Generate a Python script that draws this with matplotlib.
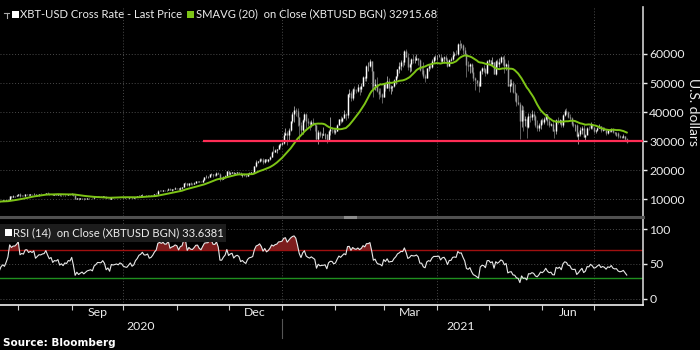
import numpy as np
import pandas as pd
import matplotlib
matplotlib.use("Agg")
import matplotlib.pyplot as plt
import matplotlib.dates as mdates
from matplotlib.lines import Line2D
from matplotlib.patches import Rectangle

# ---------------- data (daily XBT-USD, read/estimated from the chart) ----------------
warmup_close = [9230, 9090, 9060, 9130, 9070, 9340, 9250, 9430, 9240, 9290,
                9240, 9300, 9240, 9250, 9190, 9130, 9150, 9170, 9210, 9160]  # 2020-07-01..07-20

start_date = "2020-07-21"

close = [
    # Jul 2020
    9390, 9530, 9600, 9540, 9700, 9930, 11030, 10910, 11100, 11110, 11350,
    # Aug
    11800, 11070, 11230, 11190, 11740, 11770, 11600, 11750, 11680, 11880,
    11400, 11580, 11780, 11770, 11870, 11910, 12250, 11990, 11750, 11870,
    11520, 11680, 11650, 11770, 11370, 11470, 11330, 11530, 11480, 11710, 11680,
    # Sep
    11970, 11410, 10250, 10510, 10170, 10280, 10370, 10130, 10240, 10360,
    10400, 10440, 10330, 10680, 10790, 10960, 10950, 10940, 11090, 10920,
    10420, 10540, 10240, 10740, 10690, 10730, 10770, 10710, 10840, 10780,
    # Oct
    10620, 10570, 10550, 10670, 10790, 10600, 10670, 10920, 11060, 11300,
    11380, 11550, 11430, 11430, 11500, 11320, 11370, 11510, 11750, 11920,
    12820, 12970, 12930, 13110, 13030, 13070, 13650, 13280, 13460, 13560, 13800,
    # Nov
    13760, 13550, 14030, 14150, 15590, 15580, 14830, 15480, 15330, 15300,
    15700, 16280, 16330, 16070, 15960, 16720, 17660, 17800, 17820, 18620,
    18680, 18370, 18360, 19170, 18720, 17150, 17140, 17720, 18180, 19700,
    # Dec
    18790, 19210, 19420, 18650, 19150, 19360, 19170, 18320, 18550, 18250,
    18040, 18800, 19170, 19270, 19440, 21310, 22800, 23140, 23870, 23480,
    22750, 23820, 23240, 23730, 24710, 26440, 26250, 27040, 27360, 28840, 29000,
    # Jan 2021
    29370, 32130, 32780, 31970, 33990, 36820, 39370, 40800, 40250, 38350,
    35570, 33920, 37320, 39190, 36830, 36180, 35790, 36630, 36070, 35550,
    30830, 33010, 32100, 32290, 32370, 32570, 30440, 33470, 34320, 34270, 33110,
    # Feb
    33540, 35510, 37470, 36930, 38140, 39270, 38900, 46200, 46480, 44840,
    47970, 47410, 47190, 48580, 47940, 49140, 52150, 51680, 55890, 55920,
    57490, 54210, 48830, 49710, 47200, 46340, 46190, 45140,
    # Mar
    49630, 48380, 50540, 48370, 48760, 48880, 50970, 52380, 54880, 55850,
    57330, 57220, 61180, 59000, 55640, 56470, 58330, 58050, 58100, 58750,
    57900, 54530, 54520, 52300, 51700, 55140, 55970, 55640, 57750, 58920, 58920,
    # Apr
    58980, 59120, 57600, 58760, 59060, 58020, 56000, 58090, 58120, 59770,
    60000, 59860, 63540, 62970, 63110, 61530, 60060, 56220, 55720, 56470,
    53910, 51760, 51090, 50050, 49000, 54030, 55030, 54830, 53560, 57750,
    # May
    57830, 56630, 57210, 53240, 57470, 56430, 57360, 58800, 58230, 55860,
    56670, 49150, 49720, 49880, 46760, 46430, 43540, 42910, 36960, 40780,
    37300, 37530, 34770, 38710, 38490, 39290, 38530, 35680, 34620, 35680, 37340,
    # Jun
    36690, 37570, 39190, 36830, 35520, 35800, 33550, 33400, 37390, 36690,
    37340, 35550, 39100, 40520, 40140, 38350, 38090, 35820, 35480, 35600,
    31680, 32510, 33680, 34660, 31590, 32280, 34700, 34490, 35910, 35040,
    # Jul
    33570, 33900, 34680, 35290, 33800, 34230, 33860, 32880, 33810, 33520,
    34260, 33090, 32730, 32820, 31780, 31420, 31530, 31800, 30840, 29800,
]

high = [
    9420, 9540, 9640, 9620, 9730, 10000, 11250, 11200, 11330, 11170, 11450,
    11860, 12030, 11450, 11400, 11790, 11900, 11900, 11800, 11800, 12050,
    11950, 11650, 11800, 12000, 11960, 11950, 12300, 12410, 12000, 11900,
    11880, 11690, 11710, 11830, 11770, 11530, 11560, 11540, 11560, 11720, 11760,
    12070, 11960, 11450, 10610, 10570, 10310, 10400, 10420, 10350, 10500,
    10420, 10460, 10450, 10750, 10920, 11050, 11030, 11020, 11150, 11060,
    10990, 10570, 10560, 10760, 10760, 10790, 10800, 10940, 10860, 10860,
    10900, 10660, 10600, 10690, 10800, 10800, 10690, 10940, 11100, 11450,
    11430, 11700, 11550, 11540, 11560, 11540, 11400, 11520, 11800, 12000,
    13180, 13160, 13030, 13150, 13330, 13230, 13760, 13830, 13600, 13670, 14070,
    13900, 13810, 14070, 14220, 15750, 15950, 15740, 15650, 15800, 15460,
    15950, 16340, 16450, 16350, 16130, 16860, 17800, 18390, 18110, 18760,
    18900, 18700, 18750, 19390, 19480, 18900, 17370, 17890, 18280, 19750,
    19850, 19290, 19550, 19500, 19180, 19400, 19410, 19280, 18620, 18560,
    18270, 18910, 19380, 19300, 19550, 21560, 23640, 23260, 24170, 24250,
    24060, 23840, 24020, 23790, 24790, 26720, 28330, 27430, 27370, 28930, 29250,
    29600, 33160, 34610, 33440, 34440, 36880, 40180, 41950, 41380, 41340,
    38300, 36570, 37600, 39700, 39580, 37890, 36800, 37300, 37820, 36360,
    35550, 33740, 33420, 32900, 34800, 32920, 32560, 33700, 38400, 34880, 34300,
    34630, 35900, 37660, 38620, 38300, 40900, 39700, 46200, 48000, 47250,
    48460, 48950, 48010, 49590, 49090, 50170, 52540, 52480, 56180, 57400,
    58330, 57460, 54180, 51370, 52100, 48320, 48270, 46530,
    49750, 50130, 52540, 51700, 49420, 49130, 51450, 52300, 54900, 57370,
    58010, 57930, 61450, 61600, 60500, 56880, 58780, 60050, 59430, 59850,
    58760, 58400, 55900, 57200, 53230, 55200, 56570, 56460, 58300, 59370, 59800,
    59500, 60050, 59840, 58900, 59350, 59490, 58650, 58200, 58910, 61180,
    60690, 61280, 63700, 64860, 63820, 63560, 62500, 60400, 57520, 57060,
    56760, 55450, 52130, 51170, 50590, 54350, 55460, 56230, 55190, 57920,
    58450, 57940, 58960, 57150, 57940, 58360, 58650, 59460, 59210, 59500,
    56860, 57940, 51330, 51440, 50640, 49720, 46550, 45800, 43550, 42460,
    42170, 38790, 38270, 39840, 39790, 40780, 40380, 38860, 37230, 36400, 37470,
    37860, 38200, 39400, 39240, 37890, 36400, 36790, 34020, 37530, 38400,
    37680, 37440, 39380, 41000, 41300, 40530, 39510, 38200, 36430, 36060,
    35740, 33300, 34750, 35230, 35460, 32640, 34720, 35220, 36540, 36000,
    35040, 33930, 34910, 35940, 35290, 35030, 35040, 33920, 34050, 34250,
    34560, 34650, 33300, 33100, 33150, 32200, 31950, 32400, 31890, 31030,
]

low = [
    9150, 9300, 9480, 9460, 9520, 9650, 9900, 10600, 10880, 10850, 10990,
    11230, 10650, 11000, 11060, 11120, 11600, 11280, 11500, 11550, 11530,
    11150, 11240, 11280, 11690, 11700, 11700, 11800, 11850, 11560, 11670,
    11500, 11400, 11530, 11600, 11170, 11300, 11160, 11300, 11420, 11460, 11600,
    11630, 11220, 10160, 10040, 9900, 10000, 9970, 9900, 10100, 10200,
    10210, 10300, 10250, 10280, 10640, 10690, 10800, 10820, 10900, 10800,
    10340, 10370, 10150, 10200, 10560, 10660, 10630, 10680, 10660, 10730,
    10550, 10420, 10520, 10540, 10630, 10560, 10590, 10540, 10830, 11060,
    11290, 11240, 11330, 11290, 11290, 11230, 11300, 11340, 11420, 11690,
    11900, 12730, 12730, 12890, 12920, 12800, 13060, 13170, 12980, 13060, 13480,
    13600, 13240, 13300, 13550, 14100, 15200, 14420, 14720, 14860, 15080,
    15280, 15450, 15990, 15800, 15790, 15870, 16560, 17220, 17380, 17780,
    18430, 17670, 18050, 18150, 18620, 16350, 16500, 16890, 17600, 18180,
    18350, 18610, 18930, 18610, 18620, 18970, 18940, 18240, 17650, 17980,
    17600, 18020, 18740, 19010, 19060, 19300, 21260, 22360, 22820, 23100,
    22200, 22400, 23060, 22780, 23490, 24560, 25920, 26140, 25990, 27350, 27990,
    28800, 29090, 32050, 28720, 30230, 33510, 36380, 36700, 38760, 35150,
    30550, 32580, 32560, 36600, 34450, 35340, 33910, 34860, 35940, 33420,
    30090, 28950, 31600, 31150, 32110, 30900, 29370, 30120, 31990, 32880, 32300,
    32330, 33450, 35410, 36200, 36650, 38140, 37450, 38080, 45180, 43800,
    44180, 46350, 46450, 47080, 45990, 47030, 48980, 50820, 50870, 54090,
    55600, 48040, 45290, 47640, 46970, 44480, 45370, 43220,
    45120, 47270, 48280, 47150, 46400, 47150, 48800, 49520, 51870, 53290,
    54360, 55370, 56090, 58990, 54600, 53700, 54200, 57040, 56960, 57970,
    56190, 54100, 53060, 51850, 50460, 51700, 54200, 54750, 55150, 57050, 57910,
    57940, 58800, 57300, 57010, 56880, 57600, 55590, 55900, 57650, 57870,
    59380, 59570, 59790, 61300, 62020, 60010, 59620, 52130, 54220, 53450,
    53600, 50580, 47710, 48910, 47040, 48850, 53220, 53880, 52370, 53120,
    57050, 56070, 56500, 53120, 52900, 55380, 55460, 56970, 56370, 53470,
    54460, 49150, 46980, 48870, 46660, 43960, 42250, 42370, 30680, 35050,
    33490, 35390, 31110, 34550, 36580, 37390, 37250, 34780, 33630, 33520, 34290,
    35750, 35980, 37200, 35660, 34800, 35280, 33480, 31110, 32400, 35840,
    35940, 34740, 34760, 38810, 39510, 38120, 37440, 35260, 34830, 33430,
    31380, 28890, 31770, 32390, 31290, 30230, 32300, 33900, 34270, 34090,
    32760, 32730, 33400, 34430, 33210, 33510, 33860, 32210, 32330, 33090,
    33330, 32730, 32280, 31650, 31160, 31120, 31200, 31120, 30500, 29360,
]

support_level = 30000
support_start = "2020-11-16"
sma_window = 20
rsi_window = 14
sma_last_label = "32915.68"
rsi_last_label = "33.6381"
price_ticks = [10000, 20000, 30000, 40000, 50000, 60000]
rsi_ticks = [0, 50, 100]
month_labels = {"2020-09-16": "Sep", "2020-12-16": "Dec", "2021-03-16": "Mar", "2021-06-16": "Jun"}
grid_dates = ["2020-10-01", "2021-01-01", "2021-04-01", "2021-07-01"]

# ---------------- derived series ----------------
n = len(close)
dates = pd.date_range(start_date, periods=n, freq="D")
xd = mdates.date2num(dates.to_pydatetime())
full = pd.Series(warmup_close + close, dtype=float)
opens = full.shift(1).iloc[len(warmup_close):].to_numpy()
c = np.array(close, float)
hi = np.array(high, float)
lo = np.array(low, float)
sma = full.rolling(sma_window).mean().iloc[len(warmup_close):].to_numpy()
delta = full.diff()
gain = delta.clip(lower=0).ewm(alpha=1 / rsi_window, adjust=False).mean()
loss = (-delta.clip(upper=0)).ewm(alpha=1 / rsi_window, adjust=False).mean()
rsi = (100 - 100 / (1 + gain / loss)).iloc[len(warmup_close):].to_numpy()

# ---------------- figure ----------------
W, H = 700, 350
BG = "black"
TXT = "#ececec"
GRID = "#4a4a4a"
FONT = ["Lato", "DejaVu Sans"]
plt.rcParams["font.family"] = FONT
LEG_FS = 8.1
TICK_FS = 8.8

fig = plt.figure(figsize=(7, 3.5), dpi=100, facecolor=BG)

def fx(px):
    return px / W

def fy(py):
    return 1 - py / H

right_px = 643
ax = fig.add_axes([0, fy(216), fx(right_px), (216 - 7) / H], facecolor=BG)
ax2 = fig.add_axes([0, fy(305), fx(right_px), (305 - 218) / H], facecolor=BG, sharex=ax)

jan1 = mdates.date2num(pd.Timestamp("2021-01-01"))
ppd = (594 - 282) / 181.0
xmin = jan1 - 282 / ppd
xmax = jan1 + (right_px - 282) / ppd
ax.set_xlim(xmin, xmax)

# price y-limits from pixel calibration
ppk = (199.3 - 54) / 50.0  # px per 1000
ax.set_ylim(60000 - (216 - 54) / ppk * 1000, 60000 + (54 - 7) / ppk * 1000)

# grid
for v in price_ticks:
    ax.axhline(v, color=GRID, lw=0.7, ls=(0, (1, 2)), zorder=0)
for g in grid_dates:
    gx = mdates.date2num(pd.Timestamp(g))
    ax.axvline(gx, color=GRID, lw=0.7, ls=(0, (1, 2)), zorder=0)
    ax2.axvline(gx, color=GRID, lw=0.7, ls=(0, (1, 2)), zorder=0)

# candles
up = c >= opens
wick_col = np.where(up, "#c8c8c8", "#858585")
body_col = np.where(up, "#ffffff", "#9a9a9a")
ax.vlines(xd, lo, hi, colors=wick_col, lw=0.5, zorder=2)
ax.vlines(xd, opens, c, colors=body_col, lw=1.05, zorder=3)

# SMA
ax.plot(xd, sma, color="#7dc416", lw=1.4, zorder=4)

# support line
ax.hlines(support_level, mdates.date2num(pd.Timestamp(support_start)), xmax,
          color="#ff2d55", lw=1.6, zorder=5)

# price axis styling
for s in ["top", "left", "bottom"]:
    ax.spines[s].set_visible(False)
ax.spines["right"].set_color("#cfcfcf")
ax.spines["right"].set_linewidth(1.2)
ax.yaxis.tick_right()
ax.set_yticks(price_ticks)
ax.set_yticklabels([str(v) for v in price_ticks])
ax.tick_params(axis="y", colors=TXT, labelcolor=TXT, length=3, width=1, direction="out",
               pad=1.5, labelsize=TICK_FS)
ax.tick_params(axis="x", which="both", bottom=False, labelbottom=False)
fig.text(fx(693), fy(112), "U.S. dollars", color=TXT, fontsize=10, rotation=270,
         ha="center", va="center")

# RSI panel
ppr = (298.7 - 229.3) / 100.0
ax2.set_ylim(-(305 - 298.7) / ppr, 100 + (229.3 - 218) / ppr)
for v in rsi_ticks:
    ax2.axhline(v, color=GRID, lw=0.7, ls=(0, (1, 2)), zorder=0)
ax2.axhline(70, color="#a01010", lw=1.0, zorder=1)
ax2.axhline(30, color="#1f8f1f", lw=1.0, zorder=1)
ax2.fill_between(xd, 70, rsi, where=rsi > 70, interpolate=True, color="#7c1d1d", lw=0, zorder=2)
ax2.plot(xd, rsi, color="#e8e8e8", lw=0.8, zorder=3)

for s in ["top", "left"]:
    ax2.spines[s].set_visible(False)
ax2.spines["right"].set_color("#cfcfcf")
ax2.spines["right"].set_linewidth(1.2)
ax2.spines["bottom"].set_color("#f0f0f0")
ax2.spines["bottom"].set_linewidth(1.2)
ax2.yaxis.tick_right()
ax2.set_yticks(rsi_ticks)
ax2.set_yticklabels([str(v) for v in rsi_ticks])
ax2.tick_params(axis="y", colors=TXT, labelcolor=TXT, length=3, width=1, direction="out",
                pad=1.5, labelsize=TICK_FS)

month_starts = pd.date_range("2020-08-01", "2021-07-01", freq="MS")
ax2.set_xticks(mdates.date2num(month_starts.to_pydatetime()), minor=True)
ax2.set_xticks([mdates.date2num(pd.Timestamp(k)) for k in month_labels])
ax2.set_xticklabels(list(month_labels.values()))
ax2.tick_params(axis="x", which="major", length=0, pad=1.5, labelsize=TICK_FS, labelcolor=TXT)
ax2.tick_params(axis="x", which="minor", length=3.5, width=0.8, color="#cfcfcf", direction="out")

# separator between panels
fig.add_artist(Line2D([0, fx(right_px)], [fy(217.3), fy(217.3)], color="#505050", lw=2.2))
fig.add_artist(Line2D([fx(345), fx(355)], [fy(217.3), fy(217.3)], color="#8c8c8c", lw=2.2))

# year labels
fig.text(fx(141), fy(327), "2020", color=TXT, fontsize=TICK_FS, ha="center", va="center")
fig.text(fx(461), fy(327), "2021", color=TXT, fontsize=TICK_FS, ha="center", va="center")
fig.add_artist(Line2D([fx(282), fx(282)], [fy(319), fy(338)], color="#555555", lw=0.8))

# legends
fig.add_artist(Rectangle((fx(12), fy(18)), fx(7), 7 / H, color="white", lw=0))
fig.add_artist(Line2D([fx(4), fx(9)], [fy(13), fy(13)], color="#aaaaaa", lw=0.8))
fig.add_artist(Line2D([fx(6.5), fx(6.5)], [fy(13), fy(18)], color="#aaaaaa", lw=0.8))
fig.text(fx(20), fy(14), "XBT-USD Cross Rate - Last Price", color=TXT, fontsize=LEG_FS, va="center")
fig.add_artist(Rectangle((fx(187), fy(18)), fx(7), 7 / H, color="#7dc416", lw=0))
fig.text(fx(196), fy(14), "SMAVG (20)  on Close (XBTUSD BGN) " + sma_last_label,
         color=TXT, fontsize=LEG_FS, va="center")

fig.add_artist(Rectangle((0, fy(242)), fx(226), 18 / H, color="#1c1c1c", lw=0, zorder=5))
fig.add_artist(Rectangle((fx(5), fy(236)), fx(7), 7 / H, color="white", lw=0, zorder=6))
fig.text(fx(13), fy(232.5), "RSI (14)  on Close (XBTUSD BGN) " + rsi_last_label,
         color=TXT, fontsize=LEG_FS, va="center", zorder=7)

fig.text(fx(3), fy(343), "Source: Bloomberg", color="white", fontsize=7.5,
         fontweight="bold", va="center", family=["DejaVu Sans"])

fig.savefig("out.png", dpi=100, facecolor=BG)
